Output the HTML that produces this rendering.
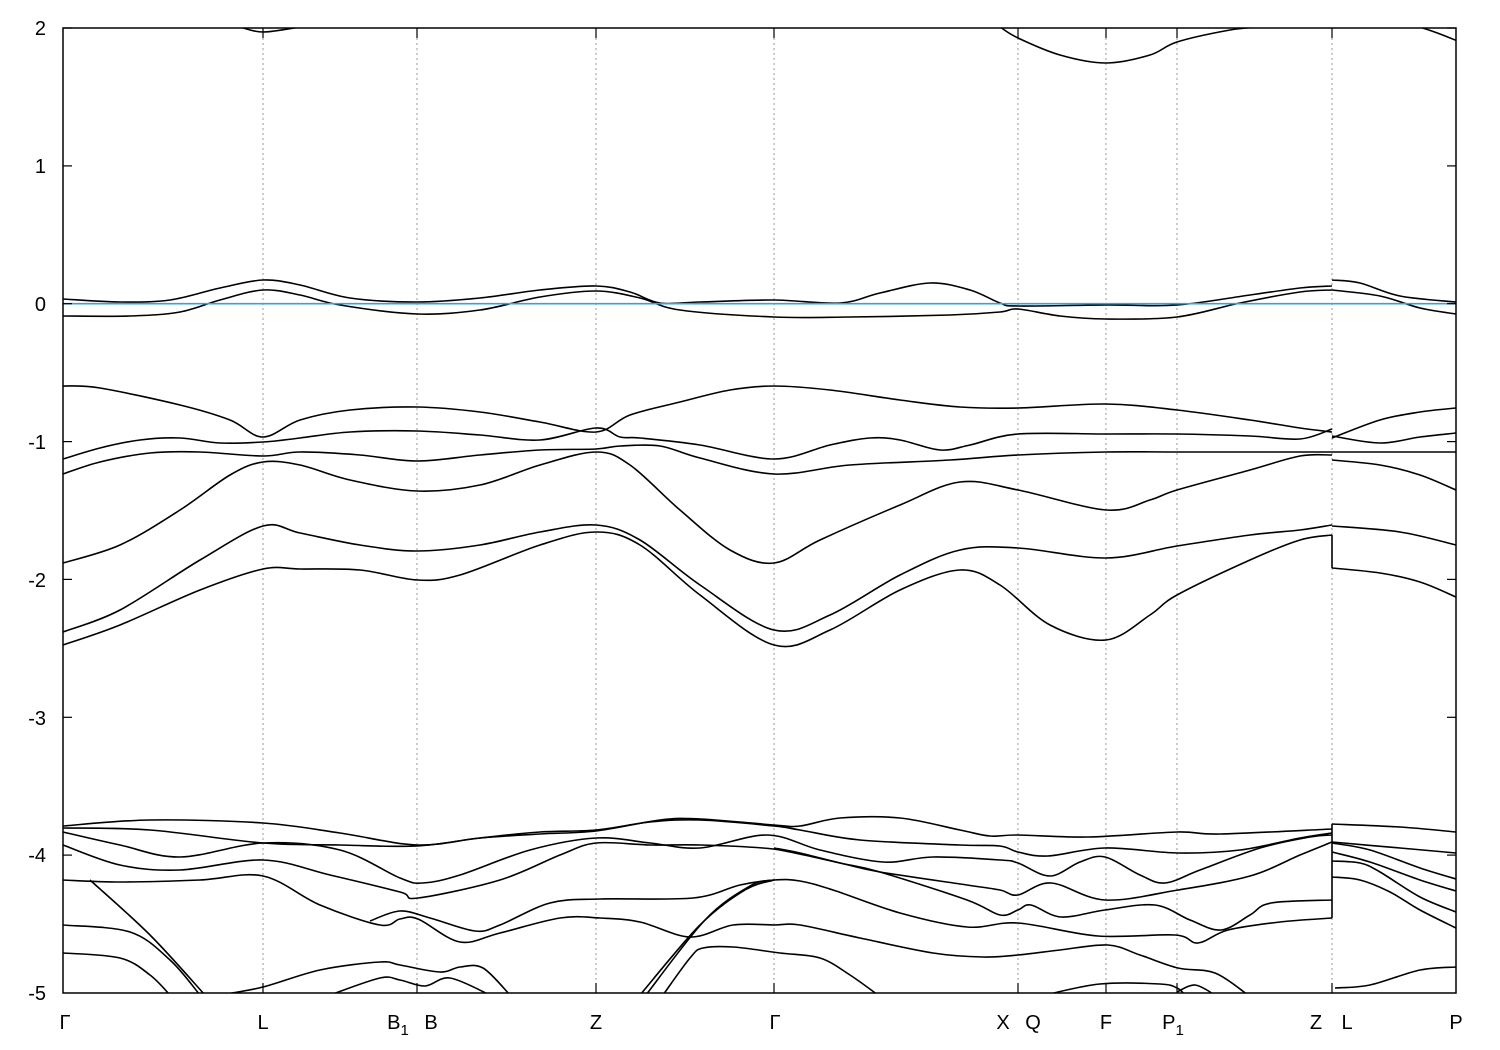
<!DOCTYPE html>
<html><head><meta charset="utf-8"><style>
body{margin:0;background:#fff;}
svg{display:block;font-family:"Liberation Sans",sans-serif;}
</style></head><body>
<svg id="s" width="1500" height="1050" viewBox="0 0 1500 1050">
<defs><clipPath id="c"><rect x="63" y="28" width="1393" height="965"/></clipPath></defs>
<g stroke="#999" stroke-width="1" stroke-dasharray="2,3">
<line x1="263" y1="28" x2="263" y2="993"/><line x1="417" y1="28" x2="417" y2="993"/>
<line x1="596" y1="28" x2="596" y2="993"/><line x1="774" y1="28" x2="774" y2="993"/>
<line x1="1018" y1="28" x2="1018" y2="993"/><line x1="1106" y1="28" x2="1106" y2="993"/>
<line x1="1177" y1="28" x2="1177" y2="993"/><line x1="1332" y1="28" x2="1332" y2="993"/>
</g>
<g id="bands" clip-path="url(#c)" fill="none" stroke="#000" stroke-width="1.6"></g>
<line x1="63" y1="303.7" x2="1456" y2="303.7" stroke="#3aa0d8" stroke-width="1.6"/>
<rect x="63" y="28" width="1393" height="965" fill="none" stroke="#000" stroke-width="1.5"/>
<g stroke="#000" stroke-width="1.2">
<line x1="63" y1="28" x2="72" y2="28"/><line x1="1456" y1="28" x2="1447" y2="28"/>
<line x1="63" y1="165.9" x2="72" y2="165.9"/><line x1="1456" y1="165.9" x2="1447" y2="165.9"/>
<line x1="63" y1="303.7" x2="72" y2="303.7"/><line x1="1456" y1="303.7" x2="1447" y2="303.7"/>
<line x1="63" y1="441.6" x2="72" y2="441.6"/><line x1="1456" y1="441.6" x2="1447" y2="441.6"/>
<line x1="63" y1="579.4" x2="72" y2="579.4"/><line x1="1456" y1="579.4" x2="1447" y2="579.4"/>
<line x1="63" y1="717.3" x2="72" y2="717.3"/><line x1="1456" y1="717.3" x2="1447" y2="717.3"/>
<line x1="63" y1="855.1" x2="72" y2="855.1"/><line x1="1456" y1="855.1" x2="1447" y2="855.1"/>
<line x1="263" y1="993" x2="263" y2="983"/><line x1="417" y1="993" x2="417" y2="983"/>
<line x1="596" y1="993" x2="596" y2="983"/><line x1="774" y1="993" x2="774" y2="983"/>
<line x1="1018" y1="993" x2="1018" y2="983"/><line x1="1106" y1="993" x2="1106" y2="983"/>
<line x1="1177" y1="993" x2="1177" y2="983"/><line x1="1332" y1="993" x2="1332" y2="983"/>
<line x1="263" y1="28" x2="263" y2="38"/><line x1="417" y1="28" x2="417" y2="38"/>
<line x1="596" y1="28" x2="596" y2="38"/><line x1="774" y1="28" x2="774" y2="38"/>
<line x1="1018" y1="28" x2="1018" y2="38"/><line x1="1106" y1="28" x2="1106" y2="38"/>
<line x1="1177" y1="28" x2="1177" y2="38"/><line x1="1332" y1="28" x2="1332" y2="38"/>
</g>
<g font-size="20" text-anchor="end" fill="#000">
<text x="46" y="35">2</text><text x="46" y="173">1</text><text x="46" y="311">0</text>
<text x="46" y="449">-1</text><text x="46" y="587">-2</text><text x="46" y="725">-3</text>
<text x="46" y="862">-4</text><text x="46" y="1000">-5</text>
</g>
<g font-size="20" text-anchor="middle" fill="#000">
<text x="65" y="1029">Γ</text><text x="263" y="1029">L</text>
<text x="398" y="1029">B<tspan font-size="15" dy="6">1</tspan></text><text x="431" y="1029">B</text>
<text x="596" y="1029">Z</text><text x="775" y="1029">Γ</text>
<text x="1003" y="1029">X</text><text x="1033" y="1029">Q</text><text x="1106" y="1029">F</text>
<text x="1173" y="1029">P<tspan font-size="15" dy="6">1</tspan></text>
<text x="1316" y="1029">Z</text><text x="1347" y="1029">L</text><text x="1456" y="1029">P</text>
</g>
</svg>
<script>
var B=[
[[240,27],[263,32],[300,27]],
[[1000,27],[1018,38],[1060,55],[1106,63],[1150,55],[1177,42],[1230,30],[1260,27]],
[[1420,27],[1440,34],[1460,42]],
[[63,299],[120,302],[170,300],[220,288],[263,280],[300,285],[350,298],[417,302],[480,298],[540,290],[596,286],[630,292],[660,303],[700,302],[774,300],[840,303],[880,293],[930,283],[970,290],[1000,303],[1018,306],[1106,305],[1177,305],[1250,295],[1300,288],[1332,286]],
[[1332,280],[1360,283],[1400,296],[1456,302]],
[[63,316],[130,316],[180,312],[220,300],[263,290],[300,295],[340,305],[417,314],[480,310],[540,297],[596,291],[640,298],[680,310],[774,317],[850,317],[950,315],[1000,312],[1018,309],[1060,316],[1106,319],[1177,317],[1240,303],[1300,292],[1332,290]],
[[1332,290],[1380,296],[1420,308],[1456,314]],
[[63,386],[100,388],[180,405],[230,420],[263,437],[300,420],[350,410],[417,407],[480,412],[540,422],[596,432],[630,415],[680,402],[730,390],[774,386],[830,390],[900,400],[960,407],[1018,408],[1106,404],[1177,410],[1250,420],[1300,428],[1332,432]],
[[1332,438],[1380,420],[1420,412],[1456,408]],
[[63,459],[100,448],[140,440],[180,438],[220,443],[263,442],[300,438],[350,432],[417,431],[480,435],[540,440],[596,428],[620,437],[640,438],[700,445],[774,459],[830,445],[870,438],[900,440],[940,450],[970,445],[1018,434],[1106,434],[1177,434],[1250,436],[1300,439],[1332,429]],
[[1332,436],[1380,443],[1420,437],[1456,433]],
[[63,474],[100,462],[150,453],[200,452],[263,456],[300,452],[360,455],[417,461],[480,455],[540,450],[596,449],[620,446],[660,446],[700,458],[774,474],[850,465],[950,460],[1018,455],[1106,452],[1177,452],[1260,452],[1332,452]],
[[1332,452],[1456,452]],
[[63,563],[120,545],[180,510],[230,475],[263,462],[300,465],[350,480],[417,491],[480,485],[540,465],[596,452],[630,465],[680,510],[730,550],[774,563],[820,540],[900,505],[960,482],[1018,490],[1106,510],[1150,500],[1177,490],[1250,470],[1300,456],[1332,455]],
[[1332,460],[1380,465],[1420,475],[1456,490]],
[[63,632],[120,610],[200,560],[263,526],[300,533],[360,545],[417,551],[480,545],[540,532],[596,525],[640,540],[700,585],[774,630],[830,615],[900,575],[960,550],[1018,548],[1106,558],[1177,546],[1250,535],[1300,530],[1332,525]],
[[1332,526],[1400,532],[1456,545]],
[[63,645],[120,625],[200,590],[263,569],[300,569],[360,570],[417,580],[460,575],[540,545],[596,532],[640,545],[700,595],[774,645],[830,630],[900,590],[960,570],[1000,585],[1050,625],[1106,640],[1150,615],[1177,595],[1250,560],[1300,540],[1332,535]],
[[1332,568],[1380,573],[1420,582],[1456,597]],
[[63,826],[150,820],[263,823],[340,833],[417,845],[480,838],[540,834],[596,831],[660,820],[700,819],[774,825],[800,826],[840,818],[900,818],[960,830],[990,836],[1018,835],[1088,837],[1177,832],[1220,834],[1332,829]],
[[63,828],[150,830],[263,843],[340,845],[417,846],[480,838],[540,832],[596,830],[650,822],[700,820],[774,826],[800,830],[860,840],[960,845],[1000,846],[1018,852],[1048,856],[1105,848],[1178,853],[1240,850],[1300,838],[1332,833]],
[[63,832],[120,845],[180,857],[263,843],[340,850],[400,878],[423,883],[460,875],[530,850],[596,838],[650,843],[700,848],[767,835],[820,850],[883,862],[933,857],[1000,860],[1018,863],[1050,876],[1080,862],[1105,857],[1140,875],[1165,883],[1200,870],[1260,848],[1310,837],[1332,835]],
[[63,845],[120,865],[180,870],[263,860],[330,875],[400,892],[418,898],[500,880],[560,855],[596,843],[650,845],[700,845],[763,848],[790,852],[840,863],[880,872],[967,885],[1000,890],[1018,895],[1051,883],[1105,900],[1178,890],[1250,876],[1300,855],[1332,842]],
[[774,848],[800,853],[840,863],[880,872],[967,900],[1000,915],[1018,910],[1031,905],[1061,917],[1105,910],[1155,905],[1190,920],[1221,930],[1250,915],[1271,903],[1332,900]],
[[370,921],[400,911],[430,918],[475,931],[500,925],[550,903],[600,899],[693,898],[740,885],[774,880],[800,881],[833,890],[900,913],[967,927],[1018,923],[1098,936],[1175,935],[1198,943],[1228,930],[1280,922],[1332,918]],
[[63,880],[120,882],[200,880],[263,876],[320,905],[380,925],[400,919],[418,919],[460,942],[500,933],[560,918],[600,918],[640,922],[690,937],[733,925],[774,925],[800,925],[860,938],[933,953],[983,957],[1018,955],[1060,950],[1108,945],[1140,955],[1178,968],[1215,973],[1248,995]],
[[640,995],[700,925],[745,890],[774,880]],
[[646,995],[705,920],[750,886],[774,880]],
[[663,995],[690,958],[703,948],[733,947],[780,953],[820,958],[850,975],[878,995]],
[[1045,995],[1100,984],[1160,984],[1177,988],[1185,995]],
[[1177,992],[1195,985],[1215,995]],
[[1332,918],[1332,824]],
[[1332,824],[1400,827],[1456,832]],
[[1332,842],[1400,848],[1456,853]],
[[1332,843],[1370,850],[1420,868],[1456,879]],
[[1332,852],[1370,862],[1420,880],[1456,891]],
[[1332,861],[1360,863],[1380,872],[1420,897],[1456,912]],
[[1332,877],[1360,880],[1390,892],[1420,910],[1456,928]],
[[1335,988],[1370,985],[1420,970],[1456,967]],
[[90,880],[150,935],[205,995]],
[[63,925],[130,932],[170,960],[200,995]],
[[63,953],[120,958],[150,975],[170,995]],
[[220,995],[263,987],[320,970],[380,962],[400,965],[440,972],[460,967],[483,968],[510,995]],
[[330,995],[380,978],[400,980],[425,986],[450,978],[490,995]],
[[1332,568],[1332,535]]
];
var g=document.getElementById('bands'),h='';
B.forEach(function(p){
 var d='M'+p[0][0]+','+p[0][1];
 for(var i=0;i<p.length-1;i++){
  var p0=p[i-1]||p[i],p1=p[i],p2=p[i+1],p3=p[i+2]||p2;
  var c1x=p1[0]+(p2[0]-p0[0])/6,c1y=p1[1]+(p2[1]-p0[1])/6;
  var c2x=p2[0]-(p3[0]-p1[0])/6,c2y=p2[1]-(p3[1]-p1[1])/6;
  d+=' C'+c1x.toFixed(1)+','+c1y.toFixed(1)+' '+c2x.toFixed(1)+','+c2y.toFixed(1)+' '+p2[0]+','+p2[1];
 }
 h+='<path d="'+d+'"/>';
});
g.innerHTML=h;
</script>
</body></html>
